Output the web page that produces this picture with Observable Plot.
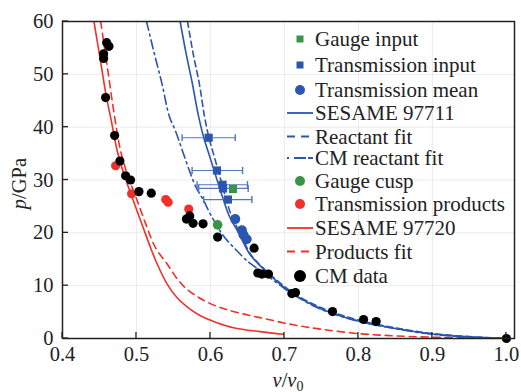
<!DOCTYPE html>
<html><head><meta charset="utf-8">
<script src="https://cdn.jsdelivr.net/npm/d3@7"></script>
<script src="https://cdn.jsdelivr.net/npm/@observablehq/plot@0.6"></script>
<style>
body{margin:0;background:#fff}
</style>
</head><body><div id="chart"></div>
<script>
// ---- data (v/v0, p GPa) ----
const xTicks = [0.4, 0.5, 0.6, 0.7, 0.8, 0.9, 1.0];
const yTicks = [0, 10, 20, 30, 40, 50, 60];

const cmData = [[0.4597,56.0],[0.4628,55.3],[0.4556,53.9],[0.4556,53.0],[0.4583,45.6],[0.4705,38.4],
  [0.4776,33.6],[0.4853,30.8],[0.492,30.0],[0.5033,27.8],[0.520,27.5],[0.5675,22.6],[0.572,23.2],
  [0.5765,21.8],[0.590,21.7],[0.6097,19.2],[0.659,17.1],[0.664,12.4],[0.6695,12.2],[0.6784,12.2],
  [0.710,8.5],[0.715,8.7],[0.765,5.1],[0.807,3.6],[0.824,3.2],[1.0,0.0]];
const transProducts = [[0.4718,32.7],[0.4934,27.4],[0.5396,26.3],[0.5428,25.8],[0.5706,24.5]];
const gaugeCusp = [[0.6097,21.5]];
const gaugeInput = [[0.6304,28.3]];
// v, p, vLow, vHigh
const transInput = [[0.5976,38.0,0.5617,0.6335],[0.6088,31.8,0.5752,0.6434],[0.6164,29.1,0.5819,0.650],
  [0.617,28.4,0.584,0.651],[0.6236,26.3,0.5908,0.656]];
const transMean = [[0.6335,22.6],[0.6425,20.5],[0.6447,19.6],[0.649,18.8]];

const sesame97711 = [[0.559,60],[0.567,54],[0.5756,48.2],[0.584,42],[0.591,38],[0.600,34],[0.609,30],
  [0.617,26.5],[0.626,23],[0.638,20],[0.653,16],[0.667,13.8],[0.69,10.8],[0.712,8.4],[0.75,5.6],
  [0.80,3.3],[0.85,1.9],[0.90,0.85],[0.95,0.3],[1.0,0]];
const reactantFit = [[0.569,60],[0.5765,54],[0.585,48.2],[0.592,42],[0.598,38],[0.606,34],[0.614,30],
  [0.621,26.5],[0.629,23],[0.640,20],[0.654,16],[0.667,13.9],[0.69,11.0],[0.712,8.6],[0.75,5.8],
  [0.80,3.5],[0.85,2.0],[0.90,0.95],[0.95,0.35],[1.0,0]];
const cmReactantFit = [[0.5136,60],[0.524,54],[0.5345,48.2],[0.5445,42],[0.5527,39.3],[0.5684,33.0],
  [0.5796,28.9],[0.5908,26.1],[0.600,23.5],[0.6177,19.4],[0.6358,16.6],[0.652,14.4],[0.667,12.9],
  [0.69,10.5],[0.712,8.3],[0.75,5.5],[0.80,3.25],[0.85,1.85],[0.90,0.8],[0.95,0.28],[1.0,0]];
const sesame97720 = [[0.4425,60],[0.452,52],[0.459,46],[0.466,41.2],[0.474,35.5],[0.4845,30.5],
  [0.4965,25.8],[0.508,21.4],[0.519,17.2],[0.528,14.1],[0.5415,10.3],[0.555,7.7],[0.5729,5.5],
  [0.5864,4.3],[0.6088,3.0],[0.6312,2.05],[0.667,1.3],[0.699,0.8]];
const productsFit = [[0.4516,60],[0.461,51],[0.4705,41.9],[0.4786,35.5],[0.489,30.5],[0.501,26.1],
  [0.513,21.5],[0.5257,17.2],[0.5415,14.1],[0.555,11.3],[0.5684,9.3],[0.59,7.3],[0.6133,5.85],
  [0.64,4.8],[0.667,3.95],[0.712,2.6],[0.75,1.75],[0.8019,0.9],[0.85,0.5],[0.90,0.25],[0.95,0.1],[1.0,0]];

const legendItems = ["Gauge input","Transmission input","Transmission mean","SESAME 97711","Reactant fit",
  "CM reactant fit","Gauge cusp","Transmission products","SESAME 97720","Products fit","CM data"];

// ---- styles ----
const FONT = '"Liberation Serif", "DejaVu Serif", "Times New Roman", Times, serif';
const BLUE = "#2a56b0", BAR = "#5577bb", RED = "#f0302a", GREEN = "#3a9446";
const lineStyles = {
  "SESAME 97711": {stroke: BLUE, dash: null},
  "Reactant fit": {stroke: BLUE, dash: "6,4"},
  "CM reactant fit": {stroke: BLUE, dash: "9,4,2,4"},
  "SESAME 97720": {stroke: RED, dash: null},
  "Products fit": {stroke: RED, dash: "7,5"}
};
const X = d => d[0], Y = d => d[1];
const ln = (data, name) => Plot.line(data, {x: X, y: Y, stroke: lineStyles[name].stroke,
  strokeWidth: 1.6, strokeDasharray: lineStyles[name].dash, curve: "catmull-rom", clip: true});

const chart = Plot.plot({
  width: 521, height: 392,
  marginLeft: 62, marginRight: 7, marginTop: 21, marginBottom: 54,
  style: {fontSize: "20.5px", color: "#222", background: "#fff"},
  x: {domain: [0.4, 1.011], ticks: xTicks, tickFormat: d3.format(".1f")},
  y: {domain: [0, 60], ticks: yTicks},
  marks: [
    Plot.gridX(xTicks.slice(1,-1), {stroke: "#e6e6e6", strokeOpacity: 1, strokeWidth: 0.8}),
    Plot.gridY(yTicks.slice(1,-1), {stroke: "#e6e6e6", strokeOpacity: 1, strokeWidth: 0.8}),
    Plot.axisX(xTicks, {tickSize: 0, tickPadding: 8, label: null, fill: "#222"}),
    Plot.axisY(yTicks, {tickSize: 0, tickPadding: 9, label: null, fill: "#222"}),
    ln(sesame97720, "SESAME 97720"),
    ln(productsFit, "Products fit"),
    ln(cmReactantFit, "CM reactant fit"),
    ln(reactantFit, "Reactant fit"),
    ln(sesame97711, "SESAME 97711"),
    Plot.link(transInput, {x1: d => d[2], x2: d => d[3], y1: d => d[1], y2: d => d[1],
      stroke: BAR, strokeWidth: 1.2, markerStart: "tick", markerEnd: "tick"}),
    Plot.dot(transInput, {x: X, y: Y, symbol: "square", r: 4.6, fill: BLUE}),
    Plot.dot(gaugeInput, {x: X, y: Y, symbol: "square", r: 4.6, fill: GREEN}),
    Plot.dot(transMean, {x: X, y: Y, r: 5, fill: BLUE}),
    Plot.dot(transProducts, {x: X, y: Y, r: 4.6, fill: RED}),
    Plot.dot(gaugeCusp, {x: X, y: Y, r: 4.8, fill: GREEN}),
    Plot.dot(cmData, {x: X, y: Y, r: 4.6, fill: "#000"}),
    Plot.frame({stroke: "#222", strokeWidth: 1.5})
  ]
});
document.getElementById("chart").appendChild(chart);

// ---- inward ticks, axis titles, legend ----
const sx = chart.scale("x"), sy = chart.scale("y");
const svg = d3.select(chart);
const g = svg.append("g").attr("stroke", "#222").attr("stroke-width", 1.3);
const x0 = sx.apply(0.4), y0 = sy.apply(0);
xTicks.forEach(v => g.append("line").attr("x1", sx.apply(v)).attr("x2", sx.apply(v))
  .attr("y1", y0).attr("y2", y0 - 6));
yTicks.forEach(p => g.append("line").attr("x1", x0).attr("x2", x0 + 6)
  .attr("y1", sy.apply(p)).attr("y2", sy.apply(p)));

const xl = svg.append("text").attr("x", (x0 + sx.apply(1.011)) / 2).attr("y", 387)
  .attr("text-anchor", "middle").attr("font-size", 20.5).attr("fill", "#222");
xl.append("tspan").attr("font-style", "italic").text("v");
xl.append("tspan").text("/");
xl.append("tspan").attr("font-style", "italic").text("v");
xl.append("tspan").attr("font-size", 14).attr("dy", 4).text("0");

const yl = svg.append("text").attr("transform", `translate(26,${(sy.apply(0) + sy.apply(60)) / 2 + 4}) rotate(-90)`)
  .attr("text-anchor", "middle").attr("font-size", 20.5).attr("fill", "#222");
yl.append("tspan").attr("font-style", "italic").text("p");
yl.append("tspan").text("/GPa");

const rows = [39, 65, 90, 113, 136.5, 158, 181, 204, 228, 251.5, 276];
const lg = svg.append("g").attr("font-size", 21).attr("fill", "#222").attr("text-anchor", "start");
const markerSpec = {
  "Gauge input": {type: "square", fill: GREEN, s: 7},
  "Transmission input": {type: "square", fill: BLUE, s: 7},
  "Transmission mean": {type: "circle", fill: BLUE, r: 5},
  "Gauge cusp": {type: "circle", fill: GREEN, r: 5},
  "Transmission products": {type: "circle", fill: RED, r: 5},
  "CM data": {type: "circle", fill: "#000", r: 6}
};
legendItems.forEach((name, i) => {
  const yy = rows[i];
  const m = markerSpec[name];
  if (m && m.type === "square") {
    lg.append("rect").attr("x", 300 - m.s / 2).attr("y", yy - m.s / 2).attr("width", m.s).attr("height", m.s).attr("fill", m.fill);
  } else if (m) {
    lg.append("circle").attr("cx", 300).attr("cy", yy).attr("r", m.r).attr("fill", m.fill);
  } else {
    const st = lineStyles[name];
    lg.append("line").attr("x1", 287).attr("x2", 313).attr("y1", yy).attr("y2", yy)
      .attr("stroke", st.stroke).attr("stroke-width", 1.8)
      .attr("stroke-dasharray", name === "CM reactant fit" ? "2,5,12" : (name === "Reactant fit" ? "8,6" : (name === "Products fit" ? "8,6" : null)));
  }
  lg.append("text").attr("x", 315).attr("y", yy + 7).attr("text-anchor", "start").text(name);
});

// force serif font on every text
svg.attr("font-family", FONT).style("font-family", FONT);
svg.selectAll("text, tspan").attr("font-family", FONT).style("font-family", FONT);
</script>
</body></html>
